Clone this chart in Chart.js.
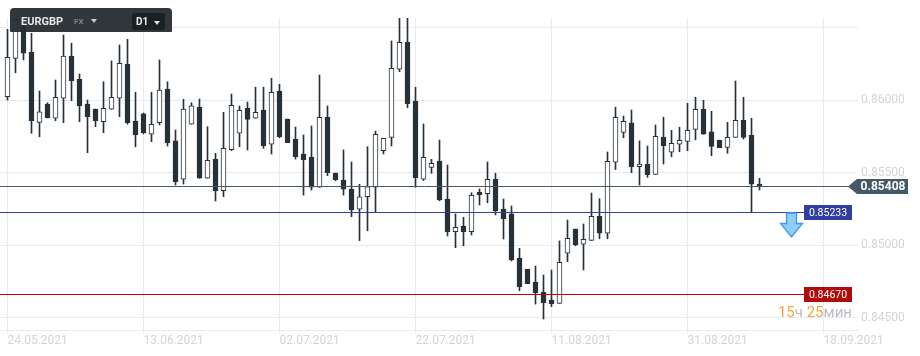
<!DOCTYPE html>
<html><head><meta charset="utf-8">
<script src="https://cdn.jsdelivr.net/npm/chart.js@4"></script>
<style>
html,body{margin:0;padding:0;background:#fff;}
#wrap{position:relative;width:920px;height:356px;font-family:Roboto,sans-serif;overflow:hidden;}
canvas{position:absolute;left:0;top:0;}
#hdr{position:absolute;left:10px;top:8px;width:162px;height:24px;background:rgba(37,43,47,0.94);border-radius:4px 4px 1px 1px;}
#sym{position:absolute;left:11px;top:7px;font-size:11px;font-weight:700;color:#e6e8ea;line-height:14px;white-space:nowrap;}
#fx{position:absolute;left:64px;top:9px;font-size:8px;font-weight:700;color:#7d878d;line-height:10px;}
.tri{position:absolute;width:0;height:0;border-left:3.5px solid transparent;border-right:3.5px solid transparent;border-top:4px solid #c8ccd0;}
#tri1{left:81px;top:11px;}
#tf{position:absolute;left:122px;top:5px;width:33px;height:17px;background:#1b2023;border-radius:3px;}
#d1{position:absolute;left:4px;top:3px;font-size:10px;font-weight:700;color:#eef0f1;line-height:12px;}
#tri2{left:22px;top:7.5px;border-top-color:#e0e3e5;}
#timer{position:absolute;right:68px;top:303px;font-size:15px;line-height:18px;white-space:nowrap;}
.o{color:#f5a53a}.g{color:#b9bdc1}
</style></head>
<body>
<div id="wrap">
<canvas id="c" width="920" height="356"></canvas>
<div id="hdr"><span id="sym">EURGBP</span><span id="fx">FX</span><span class="tri" id="tri1"></span>
<div id="tf"><span id="d1">D1</span><span class="tri" id="tri2"></span></div></div>
<div id="timer"><span class="o">15</span><span class="g">ч</span> <span class="o">25</span><span class="g">мин</span></div>
</div>
<script>
// ---- data ----
const opens  = [0.86023,0.86287,0.86505,0.86329,0.85846,0.85972,0.85874,0.86012,0.86303,0.86143,
0.85972,0.85938,0.85850,0.85936,0.86012,0.86248,0.85855,0.85904,0.85764,0.85844,
0.86076,0.85718,0.85454,0.85833,0.85950,0.85461,0.85591,0.85375,0.85658,0.85771,
0.85943,0.85874,0.85931,0.85695,0.86062,0.85869,0.85729,0.85628,0.85607,0.85399,
0.85883,0.85497,0.85449,0.85387,0.85247,0.85334,0.85399,0.85651,0.85743,0.86212,
0.86398,0.85991,0.85454,0.85536,0.85580,0.85318,0.85093,0.85132,0.85093,0.85366,
0.85354,0.85454,0.85249,0.85215,0.84909,0.84834,0.84746,0.84675,0.84622,0.84599,
0.84944,0.85111,0.85006,0.85033,0.85199,0.85082,0.85571,0.85777,0.85842,0.85540,
0.85557,0.85488,0.85743,0.85640,0.85695,0.85715,0.85798,0.85936,0.85780,0.85722,
0.85674,0.85743,0.85860,0.85757,0.85420];
const highs  = [0.86487,0.86586,0.86551,0.86460,0.86062,0.85981,0.86138,0.86448,0.86391,0.86179,
0.86000,0.85938,0.86126,0.86269,0.86379,0.86418,0.86053,0.85910,0.86053,0.86276,
0.86126,0.85793,0.86005,0.85981,0.86007,0.85816,0.85633,0.85915,0.86041,0.85959,
0.85986,0.86088,0.86088,0.86150,0.86108,0.85869,0.85814,0.85759,0.85821,0.86172,
0.85959,0.85497,0.85656,0.85573,0.85419,0.85678,0.85786,0.85736,0.86407,0.86606,
0.86593,0.86088,0.85835,0.85591,0.85724,0.85552,0.85215,0.85192,0.85361,0.85387,
0.85573,0.85495,0.85318,0.85270,0.84978,0.84834,0.84856,0.84794,0.84829,0.85029,
0.85173,0.85111,0.85146,0.85359,0.85320,0.85642,0.85950,0.85890,0.85931,0.85718,
0.85683,0.85828,0.85881,0.85791,0.85812,0.85977,0.86019,0.85998,0.85922,0.85724,
0.85846,0.86131,0.86019,0.85874,0.85461];
const lows   = [0.86000,0.86188,0.86276,0.85771,0.85747,0.85876,0.85857,0.85844,0.85995,0.85850,
0.85637,0.85816,0.85775,0.85936,0.85885,0.85833,0.85678,0.85766,0.85713,0.85828,
0.85683,0.85414,0.85421,0.85833,0.85461,0.85461,0.85304,0.85334,0.85651,0.85678,
0.85656,0.85874,0.85667,0.85628,0.85740,0.85706,0.85593,0.85345,0.85380,0.85399,
0.85478,0.85444,0.85345,0.85196,0.85031,0.85099,0.85230,0.85628,0.85683,0.86195,
0.85947,0.85399,0.85445,0.85495,0.85306,0.85063,0.84982,0.84996,0.85070,0.85277,
0.85292,0.85208,0.85042,0.84891,0.84686,0.84734,0.84594,0.84491,0.84576,0.84599,
0.84886,0.84996,0.84829,0.85033,0.85044,0.85044,0.85521,0.85740,0.85499,0.85414,
0.85467,0.85488,0.85559,0.85609,0.85644,0.85651,0.85726,0.85764,0.85616,0.85671,
0.85633,0.85743,0.85731,0.85230,0.85380];
const closes = [0.86294,0.86556,0.86322,0.85857,0.85919,0.85878,0.86019,0.86303,0.86133,0.85959,
0.85885,0.85857,0.85943,0.86019,0.86253,0.85844,0.85761,0.85775,0.85833,0.86069,
0.85706,0.85437,0.85938,0.85959,0.85461,0.85585,0.85375,0.85667,0.85963,0.85929,
0.85867,0.85915,0.85685,0.86053,0.85747,0.85706,0.85609,0.85589,0.85399,0.85881,
0.85499,0.85451,0.85385,0.85242,0.85332,0.85403,0.85764,0.85736,0.86218,0.86398,
0.85975,0.85465,0.85605,0.85564,0.85311,0.85093,0.85123,0.85093,0.85343,0.85348,
0.85454,0.85235,0.85182,0.84898,0.84714,0.84734,0.84672,0.84603,0.84597,0.84882,
0.85047,0.85001,0.85040,0.85199,0.85082,0.85578,0.85881,0.85853,0.85540,0.85559,
0.85485,0.85750,0.85685,0.85702,0.85722,0.85791,0.85936,0.85764,0.85681,0.85671,
0.85743,0.85860,0.85743,0.85420,0.85408];
const xTickIdx    = [0,17,34,51,68,85,102];
const xTickLabels = ['24.05.2021','13.06.2021','02.07.2021','22.07.2021','11.08.2021','31.08.2021','18.09.2021'];
const yTicks      = [0.845,0.850,0.855,0.860,0.865];
const lastPrice   = 0.85408;
const blueLevel   = 0.85233;
const redLevel    = 0.84670;

// ---- styles ----
const DARK = '#263238';
const GRID = '#e9e9f3';
const idx = opens.map((_, i) => i);

const levelsPlugin = {
  id: 'levels',
  afterDatasetsDraw(chart) {
    const ctx = chart.ctx, ys = chart.scales.y, left = chart.chartArea.left;
    ctx.save();
    ctx.lineWidth = 1;
    // current price
    let y = Math.round(ys.getPixelForValue(lastPrice)) + 0.5;
    ctx.strokeStyle = '#455a64';
    ctx.beginPath(); ctx.moveTo(left, y); ctx.lineTo(849, y); ctx.stroke();
    ctx.fillStyle = '#455a64';
    ctx.beginPath();
    ctx.moveTo(848, y); ctx.lineTo(857, y - 7.5); ctx.lineTo(908, y - 7.5);
    ctx.lineTo(908, y + 7.5); ctx.lineTo(857, y + 7.5); ctx.closePath(); ctx.fill();
    ctx.fillStyle = '#ffffff'; ctx.font = 'bold 12px Roboto'; ctx.textAlign = 'center'; ctx.textBaseline = 'middle';
    ctx.fillText(lastPrice.toFixed(5), 883, y + 0.5);
    // blue level
    y = Math.round(ys.getPixelForValue(blueLevel)) + 1.5;
    ctx.strokeStyle = '#2f3fb0';
    ctx.beginPath(); ctx.moveTo(left, y); ctx.lineTo(804, y); ctx.stroke();
    ctx.fillStyle = '#303f9f'; ctx.fillRect(804, y - 7.5, 48, 15);
    ctx.fillStyle = '#ffffff'; ctx.font = '10.5px Roboto';
    ctx.fillText(blueLevel.toFixed(5), 828, y + 0.5);
    // arrow icon
    const t = y + 0.5;
    ctx.beginPath();
    ctx.moveTo(786.5, t); ctx.lineTo(796.5, t); ctx.lineTo(796.5, t + 10.5); ctx.lineTo(802.5, t + 10.5);
    ctx.lineTo(791.5, t + 24); ctx.lineTo(780.5, t + 10.5); ctx.lineTo(786.5, t + 10.5); ctx.closePath();
    ctx.fillStyle = '#90cdf9'; ctx.fill();
    ctx.strokeStyle = '#3b9be8'; ctx.lineWidth = 1.3; ctx.stroke();
    // red level
    ctx.lineWidth = 1;
    y = Math.round(ys.getPixelForValue(redLevel)) + 1.5;
    ctx.strokeStyle = '#c40000';
    ctx.beginPath(); ctx.moveTo(left, y); ctx.lineTo(804, y); ctx.stroke();
    ctx.fillStyle = '#b00a0a'; ctx.fillRect(804, y - 7.5, 48, 15);
    ctx.fillStyle = '#ffffff'; ctx.font = '10.5px Roboto';
    ctx.fillText(redLevel.toFixed(5), 828, y + 0.5);
    ctx.restore();
  }
};

new Chart(document.getElementById('c'), {
  type: 'bar',
  data: {
    datasets: [
      {
        label: 'body',
        data: idx.map(i => ({ x: i, y: [opens[i], closes[i]] })),
        backgroundColor: idx.map(i => closes[i] >= opens[i] ? '#ffffff' : DARK),
        borderColor: DARK, borderWidth: 1, borderSkipped: false,
        barThickness: 5, grouped: false, order: 1
      },
      {
        label: 'wick',
        data: idx.map(i => ({ x: i, y: [lows[i], highs[i]] })),
        backgroundColor: DARK, borderWidth: 0,
        barThickness: 1, grouped: false, order: 2
      }
    ]
  },
  options: {
    responsive: false, animation: false,
    layout: { padding: { top: 18, left: 0, right: 0, bottom: 0 } },
    plugins: { legend: { display: false }, tooltip: { enabled: false } },
    scales: {
      x: {
        type: 'linear', offset: false, min: -0.9375, max: 106.3125,
        afterBuildTicks: s => { s.ticks = xTickIdx.map(v => ({ value: v })); },
        afterFit: s => { s.height = 26; },
        grid: { color: GRID, offset: false, tickLength: 3, drawTicks: true },
        border: { display: true, color: GRID },
        ticks: {
          autoSkip: false, maxRotation: 0, align: 'start', padding: 1,
          color: '#d2d5d8', font: { family: 'Roboto', size: 12 },
          callback: (v) => { const k = xTickIdx.indexOf(v); return k >= 0 ? xTickLabels[k] : ''; }
        }
      },
      y: {
        type: 'linear', position: 'right', min: 0.844153, max: 0.86565,
        afterBuildTicks: s => { s.ticks = yTicks.map(v => ({ value: v })); },
        afterFit: s => { s.width = 62; },
        grid: { color: GRID, drawTicks: false },
        border: { display: false },
        ticks: {
          padding: 3, color: '#d2d5d8', font: { family: 'Roboto', size: 12 },
          callback: (v) => v > 0.8645 ? '' : v.toFixed(5)
        }
      }
    }
  },
  plugins: [levelsPlugin]
});
</script>
</body></html>
